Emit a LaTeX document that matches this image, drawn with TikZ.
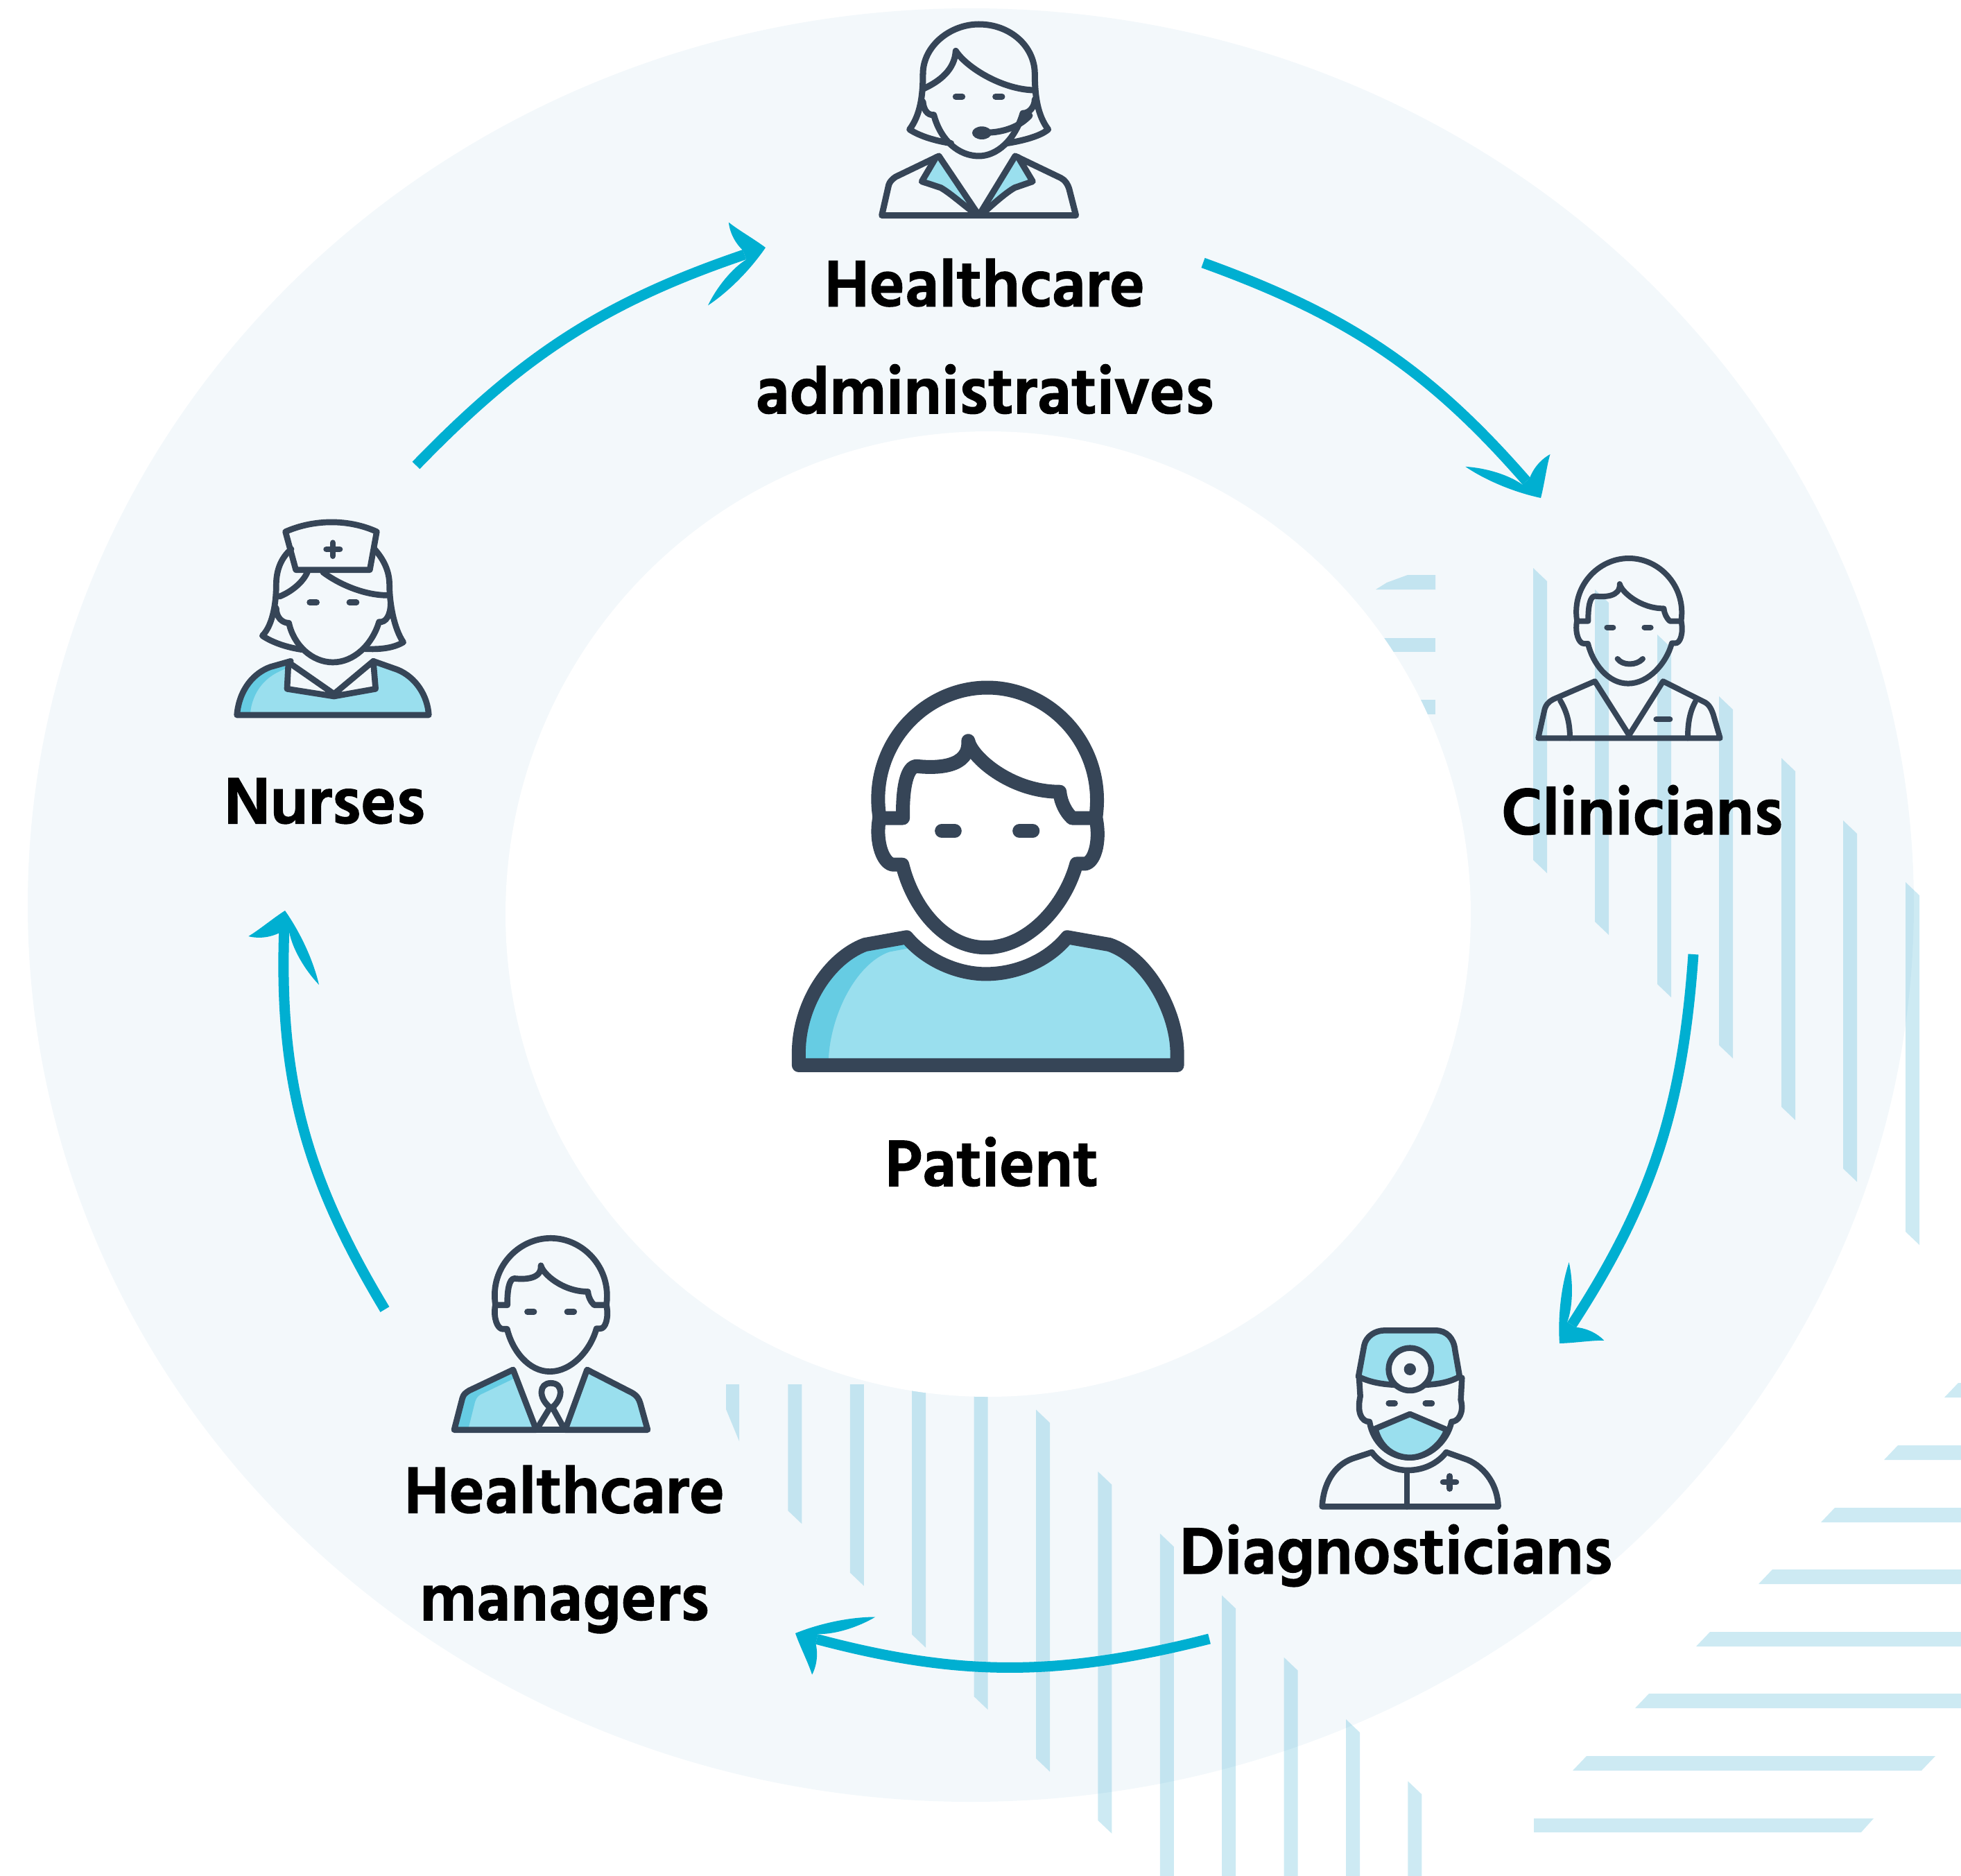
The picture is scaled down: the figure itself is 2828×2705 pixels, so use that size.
\documentclass[tikz,border=0pt]{standalone}
\usepackage{fontspec}
\setmainfont[BoldFeatures={FakeBold=1.4}]{Hind Siliguri}
\usetikzlibrary{arrows.meta,bending}

\definecolor{ringcol}{HTML}{F3F8FB}
\definecolor{stripecol}{HTML}{37ACD0}
\definecolor{flowcol}{HTML}{00AFD1}
\definecolor{inkcol}{HTML}{364557}
\definecolor{lightcol}{HTML}{9ADFEE}
\definecolor{shadecol}{HTML}{66CCE3}

% barbed tip, one barb longer than the other
\pgfdeclarearrow{
	name=Swoosh,
	setup code={
		\pgfarrowssettipend{0pt}
		\pgfarrowssetbackend{-10.6mm}
		\pgfarrowssetlineend{-3.2mm}
		\pgfarrowshullpoint{0pt}{0pt}
		\pgfarrowshullpoint{-3.8mm}{5.2mm}
		\pgfarrowshullpoint{-10.6mm}{-5.1mm}
	},
	drawing code={
		\pgfpathmoveto{\pgfpoint{0mm}{0mm}}
		\pgfpathcurveto{\pgfpoint{-1.2mm}{1.8mm}}{\pgfpoint{-2.8mm}{3.6mm}}{\pgfpoint{-3.8mm}{5.2mm}}
		\pgfpathcurveto{\pgfpoint{-4.2mm}{3.5mm}}{\pgfpoint{-3.8mm}{1.8mm}}{\pgfpoint{-3.2mm}{.7mm}}
		\pgfpathlineto{\pgfpoint{-3.2mm}{-.7mm}}
		\pgfpathcurveto{\pgfpoint{-5.5mm}{-1.2mm}}{\pgfpoint{-8.5mm}{-3mm}}{\pgfpoint{-10.6mm}{-5.1mm}}
		\pgfpathcurveto{\pgfpoint{-7mm}{-4.2mm}}{\pgfpoint{-3mm}{-2.2mm}}{\pgfpoint{0mm}{0mm}}
		\pgfpathclose
		\pgfusepathqfill
	}
}

\tikzset{
	ink/.style={draw=inkcol,line cap=round,line join=round},
	stripe/.style={fill=stripecol,fill opacity=.25},
	caption/.style={font=\bfseries\fontsize{27.6}{44}\selectfont,align=center,text=black,inner sep=0pt},
	flow/.style={draw=flowcol,line width=1.5mm,-{Swoosh[]}},
	malehead/.pic={
		\draw[ink] (405,545) .. controls (370,300) and (560,100) .. (780,100) .. controls (1000,100) and (1190,300) .. (1158,545);
		\draw[ink] (405,555) .. controls (390,640) and (420,715) .. (455,715) -- (485,715) .. controls (520,860) and (630,1003) .. (775,1003) .. controls (920,1003) and (1050,860) .. (1090,712) -- (1115,712) .. controls (1150,715) and (1175,640) .. (1158,555);
		\draw[ink] (405,553) -- (487,553) .. controls (485,450) and (500,373) .. (535,373) .. controls (600,380) and (720,380) .. (714,285) .. controls (725,340) and (860,462) .. (1032,462) .. controls (1035,500) and (1055,535) .. (1075,553) -- (1155,553);
		\draw[ink] (622,598) -- (667,598) (892,598) -- (938,598);
	},
}

\begin{document}
\begin{tikzpicture}[x=.1mm,y=-.1mm]
	\useasboundingbox (0,0) rectangle (2828,2705);

	% backdrop
	\fill[ringcol] (1400,1305) ellipse [x radius=1360,y radius=1293];
	\begin{scope}
		\clip (0,1996) rectangle (2828,2705);
		\fill[stripe] (1047,1990) -- (1066,1990) -- (1066,2078) -- (1047,2032) -- cycle;
		\foreach \k in {1,...,11}
			\fill[stripe] ({1047+89.4*\k},{1586+89.3*\k}) -- ++(20,19) -- ++(0,503) -- ++(-20,-19) -- cycle;
	\end{scope}
	\foreach \x/\t/\b in {2211/819/1240,2300/850/1329,2390/915/1419,2479/1004/1507,2569/1093/1596,2658/1183/1685,2748/1272/1776}
		\fill[stripe] (\x,\t) -- ++(20,19) -- (\x+20,\b+19) -- (\x,\b) -- cycle;
	\fill[stripe] (1984,850) -- (2000,840) -- (2030,829) -- (2070,829) -- (2070,850) -- cycle;
	\fill[stripe] (1900,920) rectangle (2070,940);
	\fill[stripe] (1900,1009) rectangle (2070,1030);
	\foreach \x/\y in {2804/1994,2717/2084,2626/2174,2536/2263,2446/2353,2358/2442}
		\fill[stripe] (\x,\y+21) -- (\x+20,\y) -- (2828,\y) -- (2828,\y+21) -- cycle;
	\fill[stripe] (2268,2553) -- (2288,2532) -- (2791,2532) -- (2771,2553) -- cycle;
	\fill[stripe] (2212,2622) -- (2702,2622) -- (2684,2642) -- (2212,2642) -- cycle;
	\fill[white] (1425,1318) circle [radius=696];

	% patient
	\begin{scope}[shift={(1100,950)},scale=.415,line width=2mm]
		\fill[lightcol] (125,1412) -- (125,1370) .. controls (125,1200) and (230,1040) .. (355,993) -- (500,967) .. controls (570,1050) and (680,1095) .. (775,1095) .. controls (880,1095) and (990,1050) .. (1058,967) -- (1205,993) .. controls (1340,1040) and (1440,1230) .. (1440,1370) -- (1440,1412) -- cycle;
		\fill[shadecol] (125,1412) -- (125,1370) .. controls (125,1200) and (230,1040) .. (355,993) -- (500,967) -- (510,1005) -- (440,1018) .. controls (320,1060) and (228,1250) .. (228,1412) -- cycle;
		\draw[ink] (125,1412) -- (125,1370) .. controls (125,1200) and (230,1040) .. (355,993) -- (500,967) .. controls (570,1050) and (680,1095) .. (775,1095) .. controls (880,1095) and (990,1050) .. (1058,967) -- (1205,993) .. controls (1340,1040) and (1440,1230) .. (1440,1370) -- (1440,1412) -- cycle;
		\pic[transform shape] {malehead};
	\end{scope}

	% clinician
	\begin{scope}[shift={(2193,785)},scale=.2,line width=.8mm]
		\pic[transform shape] {malehead};
	\end{scope}
	\begin{scope}[shift={(2190,780)},scale=.3333,line width=.8mm]
		\draw[ink] (85,853) -- (110,740) .. controls (115,710) and (130,695) .. (150,685) -- (330,607) -- (478,840) -- (625,607) -- (800,695) .. controls (825,705) and (835,730) .. (842,750) -- (872,853) -- cycle;
		\draw[ink] (180,690) .. controls (210,740) and (222,790) .. (222,853);
		\draw[ink] (765,695) .. controls (740,740) and (732,790) .. (732,853);
		\draw[ink] (595,772) -- (655,772);
		\draw[ink] (428,510) .. controls (450,540) and (510,540) .. (537,510);
	\end{scope}

	% manager
	\begin{scope}[shift={(628,1764)},scale=.213,line width=.87mm]
		\pic[transform shape] {malehead};
	\end{scope}
	\begin{scope}[shift={(630,1760)},scale=.3333,line width=.87mm]
		\fill[lightcol] (75,905) -- (110,770) .. controls (115,750) and (125,745) .. (140,735) -- (330,645) -- (432,905) -- cycle;
		\fill[shadecol] (75,905) -- (110,770) .. controls (115,750) and (125,745) .. (140,735) -- (330,645) -- (340,680) -- (190,752) .. controls (175,760) and (170,770) .. (165,785) -- (135,905) -- cycle;
		\fill[lightcol] (555,905) -- (650,645) -- (845,745) .. controls (870,760) and (875,775) .. (880,790) -- (912,905) -- cycle;
		\draw[ink] (75,905) -- (110,770) .. controls (115,750) and (125,745) .. (140,735) -- (330,645) -- (430,905) -- cycle;
		\draw[ink] (555,905) -- (650,645) -- (845,745) .. controls (870,760) and (875,775) .. (880,790) -- (912,905) -- cycle;
		\draw[ink] (430,905) -- (555,905);
		\draw[ink] (440,890) -- (490,808) .. controls (440,770) and (440,703) .. (493,703) .. controls (550,703) and (545,770) .. (500,808) -- (545,890);
	\end{scope}

	% nurse
	\begin{scope}[shift={(320,730)},scale=.3333,line width=.87mm]
		\fill[lightcol] (65,903) .. controls (75,790) and (140,720) .. (210,695) -- (298,670) -- (485,822) -- (655,670) -- (760,707) .. controls (840,740) and (890,820) .. (895,903) -- cycle;
		\fill[shadecol] (65,903) .. controls (75,790) and (140,720) .. (210,695) -- (285,672) -- (285,700) .. controls (190,730) and (130,800) .. (122,903) -- cycle;
		\draw[ink] (298,670) -- (210,695) .. controls (140,720) and (75,790) .. (65,903) -- (895,903) .. controls (890,820) and (840,740) .. (760,707) -- (655,670);
		\draw[ink,fill=ringcol] (288,675) -- (282,790) -- (485,822) -- (665,790) -- (655,670) -- (485,812) -- cycle;
		\draw[ink] (275,110) .. controls (400,55) and (550,55) .. (670,110) -- (640,275) -- (320,275) -- cycle;
		\draw[ink] (480,158) -- (480,215) (452,186) -- (510,186);
		\draw[ink] (300,185) .. controls (260,220) and (235,270) .. (235,340) .. controls (235,400) and (225,510) .. (175,560) .. controls (220,590) and (280,610) .. (345,620);
		\draw[ink] (660,185) .. controls (700,230) and (725,280) .. (725,340) .. controls (725,420) and (745,530) .. (785,588) .. controls (740,615) and (680,620) .. (620,617);
		\draw[ink] (370,285) .. controls (350,330) and (300,370) .. (250,390);
		\draw[ink] (437,285) .. controls (510,340) and (620,385) .. (715,385);
		\draw[ink] (235,440) .. controls (235,480) and (260,505) .. (290,505) .. controls (310,600) and (390,675) .. (480,675) .. controls (570,675) and (650,600) .. (680,500) .. controls (710,505) and (730,470) .. (730,420);
		\draw[ink] (380,416) -- (410,416) (552,416) -- (582,416);
	\end{scope}

	% administrative
	\begin{scope}[shift={(1230,0)},scale=.3333,line width=.9mm]
		\fill[lightcol] (360,680) -- (298,785) -- (380,812) .. controls (420,835) and (470,880) .. (530,925) -- cycle;
		\fill[lightcol] (715,680) -- (778,785) -- (700,812) .. controls (660,835) and (610,880) .. (560,925) -- cycle;
		\draw[ink] (303,320) .. controls (303,200) and (420,105) .. (545,105) .. controls (680,105) and (787,200) .. (787,320);
		\draw[ink] (303,320) .. controls (303,420) and (290,500) .. (245,560) .. controls (290,590) and (360,610) .. (425,620);
		\draw[ink] (787,320) .. controls (787,420) and (800,500) .. (845,560) .. controls (810,590) and (730,610) .. (665,620);
		\draw[ink] (303,385) .. controls (380,350) and (440,300) .. (445,220) .. controls (490,290) and (640,385) .. (780,390);
		\draw[ink] (303,440) .. controls (305,470) and (320,500) .. (350,497) .. controls (380,610) and (460,675) .. (545,675) .. controls (620,675) and (700,610) .. (735,490) .. controls (765,490) and (787,460) .. (787,430);
		\draw[ink] (445,418) -- (473,418) (617,418) -- (645,418);
		\draw[ink] (595,573) .. controls (650,570) and (720,550) .. (765,500);
		\fill[inkcol] (558,575) ellipse [x radius=42,y radius=28];
		\draw[ink] (125,932) -- (155,800) .. controls (160,785) and (170,775) .. (185,765) -- (372,675) -- (545,932) -- (702,675) -- (900,770) .. controls (920,780) and (930,800) .. (935,815) -- (965,932) -- cycle;
		\draw[ink] (360,680) -- (298,785) -- (380,812) .. controls (420,835) and (470,880) .. (530,925);
		\draw[ink] (715,680) -- (778,785) -- (700,812) .. controls (660,835) and (610,880) .. (560,925);
	\end{scope}

	% diagnostician
	\begin{scope}[shift={(1880,1890)},scale=.3333,line width=.85mm]
		\draw[ink,fill=lightcol] (237,285) -- (262,150) .. controls (270,110) and (310,85) .. (350,85) -- (570,85) .. controls (620,85) and (650,120) .. (655,170) -- (675,285) .. controls (620,315) and (560,322) .. (460,322) .. controls (360,322) and (300,315) .. (237,285) -- cycle;
		\draw[ink,fill=ringcol] (460,253) circle [radius=92];
		\fill[inkcol] (460,253) circle [radius=26];
		\draw[ink] (240,290) -- (245,370) .. controls (230,440) and (250,480) .. (285,480) .. controls (300,570) and (370,635) .. (460,635) .. controls (540,635) and (620,570) .. (640,480) .. controls (670,480) and (695,440) .. (680,385) -- (685,290);
		\draw[ink,fill=lightcol] (310,510) -- (460,447) -- (620,515) .. controls (590,590) and (520,635) .. (460,635) .. controls (390,635) and (330,590) .. (310,510) -- cycle;
		\draw[ink] (368,400) -- (395,400) (527,400) -- (555,400);
		\draw[ink] (80,847) .. controls (85,750) and (130,670) .. (210,640) -- (295,612) .. controls (330,660) and (390,690) .. (450,690) .. controls (520,690) and (580,660) .. (617,612) -- (710,645) .. controls (790,680) and (840,760) .. (842,847) -- cycle;
		\draw[ink] (447,700) -- (447,847);
		\draw[ink] (632,715) -- (632,770) (603,741) -- (660,741);
	\end{scope}

	% labels
	\node[caption,anchor=center] (patient) at (1430,1675) {Patient};
	\node[caption,anchor=center] (admins) at (1420,485) {Healthcare\\administratives};
	\node[caption,anchor=center] (clinicians) at (2368,1168) {Clinicians};
	\node[caption,anchor=center] (diagnosticians) at (2013,2243) {Diagnosticians};
	\node[caption,anchor=center] (managers) at (814,2234) {Healthcare\\managers};
	\node[caption,anchor=center] (nurses) at (468,1155) {Nurses};

	% cycle
	\coordinate (nursesOut) at (600,671);
	\coordinate (adminsIn) at (1104,357);
	\coordinate (adminsOut) at (1735,379);
	\coordinate (cliniciansIn) at (2222,718);
	\coordinate (cliniciansOut) at (2442,1376);
	\coordinate (diagnosticiansIn) at (2249,1937);
	\coordinate (diagnosticiansOut) at (1744,2363);
	\coordinate (managersIn) at (1147,2355);
	\coordinate (managersOut) at (555,1888);
	\coordinate (nursesIn) at (411,1313);
	\draw[flow] (nursesOut) to[bend left=14] (adminsIn);
	\draw[flow] (adminsOut) to[bend left=15] (cliniciansIn);
	\draw[flow] (cliniciansOut) to[bend left=15] (diagnosticiansIn);
	\draw[flow] (diagnosticiansOut) to[bend left=15] (managersIn);
	\draw[flow] (managersOut) to[bend left=17] (nursesIn);
\end{tikzpicture}
\end{document}
